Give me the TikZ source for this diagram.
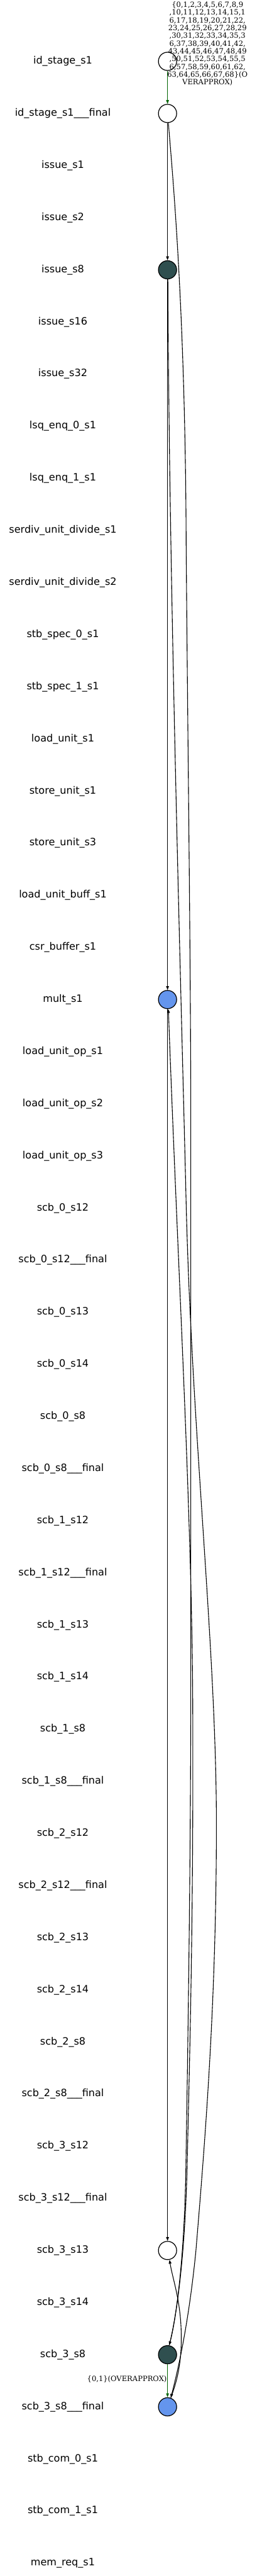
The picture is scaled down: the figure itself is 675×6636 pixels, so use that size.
\documentclass[tikz,border=0pt]{standalone}
\usepackage{fontspec}
\newfontfamily\rowfont{DejaVu Sans}
\newfontfamily\setfont{DejaVu Serif}
\usetikzlibrary{arrows.meta,positioning,calc}
\definecolor{slateFill}{HTML}{2F4F4F}
\definecolor{blueFill} {HTML}{6495ED}
\definecolor{overC}    {HTML}{006400}
\tikzset{
  >={Triangle[length=10pt,width=7pt]},
  rowName/.style={font=\rowfont\fontsize{26}{30}\selectfont,inner sep=0pt},
  stateEmpty/.style={circle,draw=black,line width=2pt,fill=white,
    minimum size=47pt,inner sep=0pt},
  stateDark/.style={stateEmpty,fill=slateFill},
  stateBlue/.style={stateEmpty,fill=blueFill},
  flow/.style={->,line width=1.8pt,draw=black},
  overFlow/.style={->,line width=1.8pt,draw=overC},
  overLabel/.style={font=\setfont\fontsize{18.7}{20}\selectfont,inner sep=0pt,align=center},
}

\begin{document}
\begin{tikzpicture}[x=1pt,y=-1pt]
\useasboundingbox (0,0) rectangle (675,6636);
% one row per stage, names on the left
\foreach \txt [count=\i from 0] in {id\_stage\_s1,id\_stage\_s1\_\_\_final,
  issue\_s1,issue\_s2,issue\_s8,issue\_s16,issue\_s32,
  lsq\_enq\_0\_s1,lsq\_enq\_1\_s1,serdiv\_unit\_divide\_s1,serdiv\_unit\_divide\_s2,
  stb\_spec\_0\_s1,stb\_spec\_1\_s1,load\_unit\_s1,store\_unit\_s1,store\_unit\_s3,
  load\_unit\_buff\_s1,csr\_buffer\_s1,mult\_s1,
  load\_unit\_op\_s1,load\_unit\_op\_s2,load\_unit\_op\_s3,
  scb\_0\_s12,scb\_0\_s12\_\_\_final,scb\_0\_s13,scb\_0\_s14,scb\_0\_s8,scb\_0\_s8\_\_\_final,
  scb\_1\_s12,scb\_1\_s12\_\_\_final,scb\_1\_s13,scb\_1\_s14,scb\_1\_s8,scb\_1\_s8\_\_\_final,
  scb\_2\_s12,scb\_2\_s12\_\_\_final,scb\_2\_s13,scb\_2\_s14,scb\_2\_s8,scb\_2\_s8\_\_\_final,
  scb\_3\_s12,scb\_3\_s12\_\_\_final,scb\_3\_s13,scb\_3\_s14,scb\_3\_s8,scb\_3\_s8\_\_\_final,
  stb\_com\_0\_s1,stb\_com\_1\_s1,mem\_req\_s1}
  \node[rowName] (row\i) at (162,{158+134.27*\i}) {\txt};

% state column
\coordinate (col) at (432,0);
\node[stateEmpty] (idS)         at (row0 -| col)  {};
\node[stateEmpty] (idFin)       at (row1 -| col)  {};
\node[stateDark]  (issEight)    at (row4 -| col)  {};
\node[stateBlue]  (multOne)     at (row18 -| col) {};
\node[stateEmpty] (scbThirteen) at (row42 -| col) {};
\node[stateDark]  (scbEight)    at (row44 -| col) {};
\node[stateBlue]  (scbEightFin) at (row45 -| col) {};

\node[overLabel,anchor=north] (setTop) at (535,4) {%
  \{0,1,2,3,4,5,6,7,8,9\\,10,11,12,13,14,15,1\\6,17,18,19,20,21,22,\\
  23,24,25,26,27,28,29\\,30,31,32,33,34,35,3\\6,37,38,39,40,41,42,\\
  43,44,45,46,47,48,49\\,50,51,52,53,54,55,5\\6,57,58,59,60,61,62,\\
  63,64,65,66,67,68\}(O\\VERAPPROX)};

\draw[overFlow] (idS) -- (idFin);
\draw[flow] (idFin) -- (issEight);
\draw[flow] (idFin.-85) .. controls (445,450) and (478,800) .. (480,1400)
  .. controls (484,1900) and (492,2500) .. (492,2900) -- (492,4300)
  .. controls (492,4800) and (484,5300) .. (479,5600)
  .. controls (474,5850) and (450,5990) .. (scbEight.80);
\draw[flow] (issEight) -- (multOne);
\draw[flow] (issEight.-88) .. controls (436,1500) and (468,2600) .. (480,3100)
  .. controls (495,3700) and (558,4250) .. (558,4700)
  .. controls (558,5150) and (530,5500) .. (505,5800)
  .. controls (485,6000) and (455,6120) .. (scbEightFin.70);
\draw[flow] (multOne) -- (scbThirteen);
\draw[flow] (scbEight.80) .. controls (450,5990) and (475,5850) .. (482,5600)
  .. controls (489,5300) and (499,4950) .. (497,4400)
  .. controls (495,3900) and (460,3300) .. (multOne.-85);
\draw[overFlow] (scbEight) -- node[overLabel,left=1pt,pos=0.45] {\{0,1\}(OVERAPPROX)} (scbEightFin);
\draw[flow] (scbEightFin.70) .. controls (458,6130) and (470,6080) .. (467,6000)
  .. controls (464,5920) and (445,5870) .. (scbThirteen.-78);
\end{tikzpicture}
\end{document}
